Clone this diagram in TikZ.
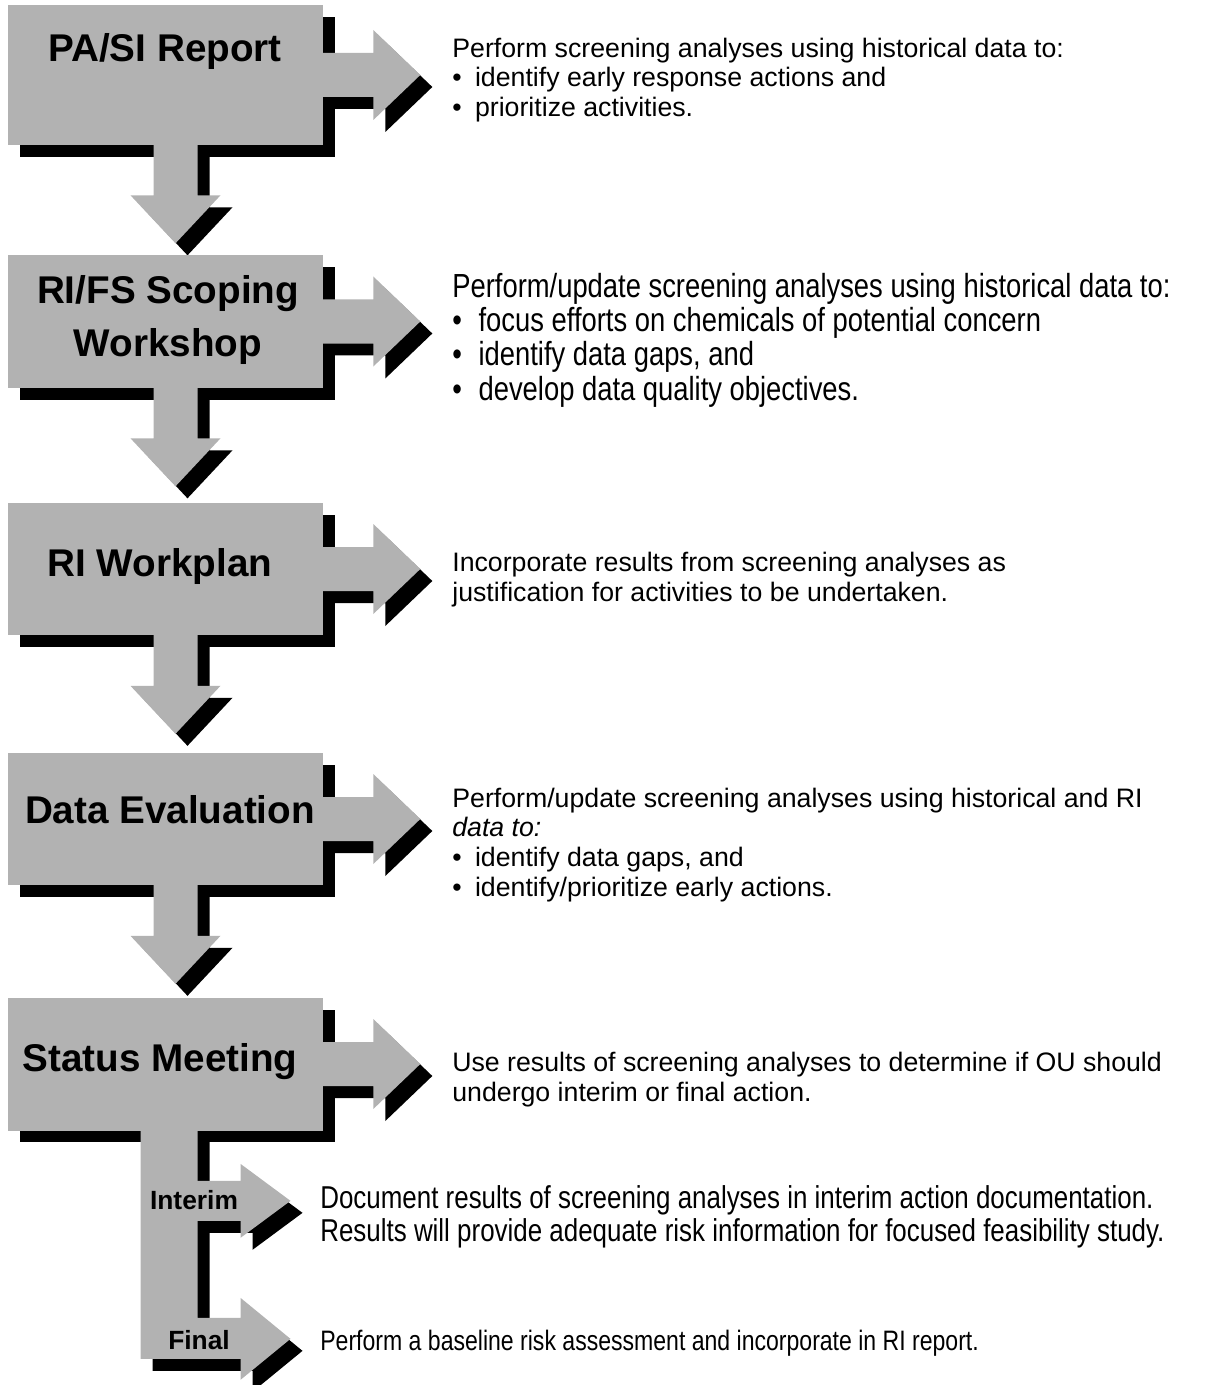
\documentclass[tikz,border=0pt]{standalone}
\usepackage{fontspec}
\setmainfont{Liberation Sans}
\newfontfamily\narrowfont{Liberation Sans}[FakeStretch=0.82]
\usetikzlibrary{calc,shadows}

\begin{document}
\begin{tikzpicture}[x=0.02cm,y=-0.02cm,
stagebox/.style={fill=black!30, minimum width=6.3cm, minimum height=2.66cm, inner sep=0pt,
  general shadow={fill=black, shadow xshift=0.24cm, shadow yshift=-0.24cm}},
blockarrow/.style={fill=black!30, general shadow={fill=black, shadow xshift=0.24cm, shadow yshift=-0.24cm}},
stagelabel/.style={font=\bfseries\fontsize{22}{30.5}\selectfont, align=center, inner sep=0pt},
branchlabel/.style={font=\bfseries\fontsize{15}{18}\selectfont, inner sep=0pt},
note/.style={anchor=west, align=left, inner sep=0pt, font=\fontsize{15.2}{17}\selectfont},
narrownote/.style={note, font=\narrowfont\fontsize{19}{19.5}\selectfont}]
\useasboundingbox (0,0) rectangle (1210,1385);
% stage 1
\node[stagebox, minimum height=2.8cm] (s1) at (165.5,75) {};
\path[blockarrow] ($(s1.east)+(-5,-22)$) -- ++(55,0) -- ++(0,-23) -- ++(47,45) -- ++(-47,45) -- ++(0,-23) -- ++(-55,0) -- cycle;
\path[blockarrow] ($(s1.south)+(-12,-5)$) -- ++(44,0) -- ++(0,55) -- ++(23,0) -- ++(-45,48) -- ++(-45,-48) -- ++(23,0) -- cycle;
\node[stagelabel] (l1) at (165,52) {PA/SI Report};
% stage 2
\node[stagebox] (s2) at (165.5,321.5) {};
\path[blockarrow] ($(s2.east)+(-5,-22)$) -- ++(55,0) -- ++(0,-23) -- ++(47,45) -- ++(-47,45) -- ++(0,-23) -- ++(-55,0) -- cycle;
\path[blockarrow] ($(s2.south)+(-12,-5)$) -- ++(44,0) -- ++(0,55) -- ++(23,0) -- ++(-45,48) -- ++(-45,-48) -- ++(23,0) -- cycle;
\node[stagelabel] (l2) at (168,320) {RI/FS Scoping\\Workshop};
% stage 3
\node[stagebox] (s3) at (165.5,569) {};
\path[blockarrow] ($(s3.east)+(-5,-22)$) -- ++(55,0) -- ++(0,-23) -- ++(47,45) -- ++(-47,45) -- ++(0,-23) -- ++(-55,0) -- cycle;
\path[blockarrow] ($(s3.south)+(-12,-5)$) -- ++(44,0) -- ++(0,55) -- ++(23,0) -- ++(-45,48) -- ++(-45,-48) -- ++(23,0) -- cycle;
\node[stagelabel] (l3) at (160,567) {RI Workplan};
% stage 4
\node[stagebox] (s4) at (165.5,819) {};
\path[blockarrow] ($(s4.east)+(-5,-22)$) -- ++(55,0) -- ++(0,-23) -- ++(47,45) -- ++(-47,45) -- ++(0,-23) -- ++(-55,0) -- cycle;
\path[blockarrow] ($(s4.south)+(-12,-5)$) -- ++(44,0) -- ++(0,55) -- ++(23,0) -- ++(-45,48) -- ++(-45,-48) -- ++(23,0) -- cycle;
\node[stagelabel] (l4) at (170,810) {Data Evaluation};
% stage 5
\node[stagebox] (s5) at (165.5,1064) {};
\path[blockarrow] ($(s5.east)+(-5,-22)$) -- ++(55,0) -- ++(0,-23) -- ++(47,45) -- ++(-47,45) -- ++(0,-23) -- ++(-55,0) -- cycle;
\node[stagelabel] (l5) at (160,1062) {Status Meeting};
% interim / final branch
\path[blockarrow] ($(s5.south)+(-25,-10)$) -- ++(57,0) -- ++(0,197) -- ++(43,0) -- ++(0,-20) -- ++(50,41) -- ++(-50,41) -- ++(0,-21) -- ++(-100,0) -- cycle;
\path[blockarrow] ($(s5.south)+(27,50)$) -- ++(48,0) -- ++(0,-17) -- ++(50,37) -- ++(-50,37) -- ++(0,-17) -- ++(-48,0) -- cycle;
\node[branchlabel] (li) at (194,1200) {Interim};
\node[branchlabel] (lf) at (199,1340) {Final};
% notes
\node[note] (d1) at (452,80) {Perform screening analyses using historical data to:\\
  \textbullet\hspace{0.5em}identify early response actions and\\
  \textbullet\hspace{0.5em}prioritize activities.};
\node[narrownote] (d2) at (452,340) {Perform/update screening analyses using historical data to:\\
  \textbullet\hspace{0.5em}focus efforts on chemicals of potential concern\\
  \textbullet\hspace{0.5em}identify data gaps, and\\
  \textbullet\hspace{0.5em}develop data quality objectives.};
\node[note] (d3) at (452,580) {Incorporate results from screening analyses as\\
  justification for activities to be undertaken.};
\node[note] (d4) at (452,845) {Perform/update screening analyses using historical and RI\\
  \textit{data to:}\\
  \textbullet\hspace{0.5em}identify data gaps, and\\
  \textbullet\hspace{0.5em}identify/prioritize early actions.};
\node[note] (d5) at (452,1080) {Use results of screening analyses to determine if OU should\\
  undergo interim or final action.};
\node[narrownote, font=\narrowfont\fontsize{18}{19}\selectfont] (di) at (320,1217) {Document results of screening analyses in interim action documentation.\\
  Results will provide adequate risk information for focused feasibility study.};
\node[narrownote, font=\narrowfont\fontsize{16}{18}\selectfont] (df) at (320,1343) {Perform a baseline risk assessment and incorporate in RI report.};
\end{tikzpicture}
\end{document}
